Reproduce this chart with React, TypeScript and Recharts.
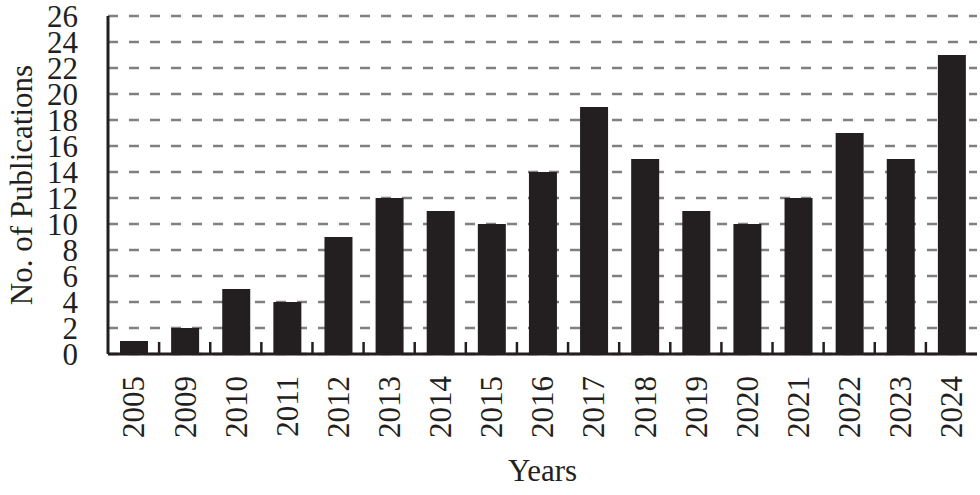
import React from 'react';
import {
  BarChart,
  Bar,
  XAxis,
  YAxis,
  CartesianGrid,
} from 'recharts';

// Publication counts per year
const years = ['2005', '2009', '2010', '2011', '2012', '2013', '2014', '2015', '2016', '2017', '2018', '2019', '2020', '2021', '2022', '2023', '2024'];
const publications = [1, 2, 5, 4, 9, 12, 11, 10, 14, 19, 15, 11, 10, 12, 17, 15, 23];
const yTicks = [0, 2, 4, 6, 8, 10, 12, 14, 16, 18, 20, 22, 24, 26];

const FONT = '"Liberation Serif", "Times New Roman", serif';
const INK = '#231f20';
const FS = 31;

// layout constants
const CHART_W = 980;
const CHART_H = 495;
const MARGIN = { top: 16, right: 3, left: 0, bottom: 0 };
const Y_AXIS_W = 108;
const X_AXIS_H = 141;
const PLOT_W = CHART_W - MARGIN.left - MARGIN.right - Y_AXIS_W;

const data = years.map((year, i) => ({ year, count: publications[i] }));

// rotated year label plus a short inward tick on the left edge of each band
const YearTick = (props: any) => {
  const { x, y, payload } = props;
  const half = PLOT_W / years.length / 2;
  const first = payload.value === years[0];
  return (
    <g>
      {!first && (
        <line x1={x - half} y1={y - 1} x2={x - half} y2={y - 12} stroke={INK} strokeWidth={2.5} />
      )}
      <text
        transform={`translate(${x},${y + 22}) rotate(-90)`}
        textAnchor="end"
        dy="0.35em"
        fill={INK}
        fontSize={FS}
        fontFamily={FONT}
      >
        {payload.value}
      </text>
    </g>
  );
};

const YearsLabel = (props: any) => {
  const { viewBox } = props;
  return (
    <text
      x={viewBox.x + viewBox.width / 2}
      y={viewBox.y + viewBox.height - 14}
      textAnchor="middle"
      fill={INK}
      fontSize={FS}
      fontFamily={FONT}
    >
      Years
    </text>
  );
};

const CountLabel = (props: any) => {
  const { viewBox } = props;
  const cx = viewBox.x + 21;
  const cy = viewBox.y + viewBox.height / 2;
  return (
    <text
      transform={`translate(${cx},${cy}) rotate(-90)`}
      textAnchor="middle"
      dy="0.35em"
      fill={INK}
      fontSize={FS}
      fontFamily={FONT}
    >
      No. of Publications
    </text>
  );
};

export default function App() {
  return (
    <div style={{ position: 'absolute', left: 0, top: 0, background: '#fff' }}>
      <BarChart width={CHART_W} height={CHART_H} data={data} margin={MARGIN}>
        <CartesianGrid
          vertical={false}
          stroke="#808080"
          strokeWidth={2.5}
          strokeDasharray="10 11"
        />
        <XAxis
          dataKey="year"
          height={X_AXIS_H}
          interval={0}
          tickSize={0}
          tickMargin={0}
          tickLine={false}
          axisLine={{ stroke: INK, strokeWidth: 3 }}
          tick={<YearTick />}
          label={<YearsLabel />}
        />
        <XAxis
          xAxisId="top"
          dataKey="year"
          orientation="top"
          height={0}
          tick={false}
          tickLine={false}
          axisLine={{ stroke: INK, strokeWidth: 2.5 }}
        />
        <YAxis
          width={Y_AXIS_W}
          domain={[0, 26]}
          ticks={yTicks}
          interval={0}
          tickSize={0}
          tickMargin={30}
          tickLine={false}
          axisLine={{ stroke: INK, strokeWidth: 3 }}
          tick={{ fill: INK, fontSize: FS, fontFamily: FONT }}
          label={<CountLabel />}
        />
        <YAxis
          yAxisId="right"
          orientation="right"
          width={0}
          domain={[0, 26]}
          tick={false}
          tickLine={false}
          axisLine={{ stroke: INK, strokeWidth: 2.5 }}
        />
        <Bar dataKey="count" fill={INK} barSize={28} isAnimationActive={false} />
      </BarChart>
    </div>
  );
}
